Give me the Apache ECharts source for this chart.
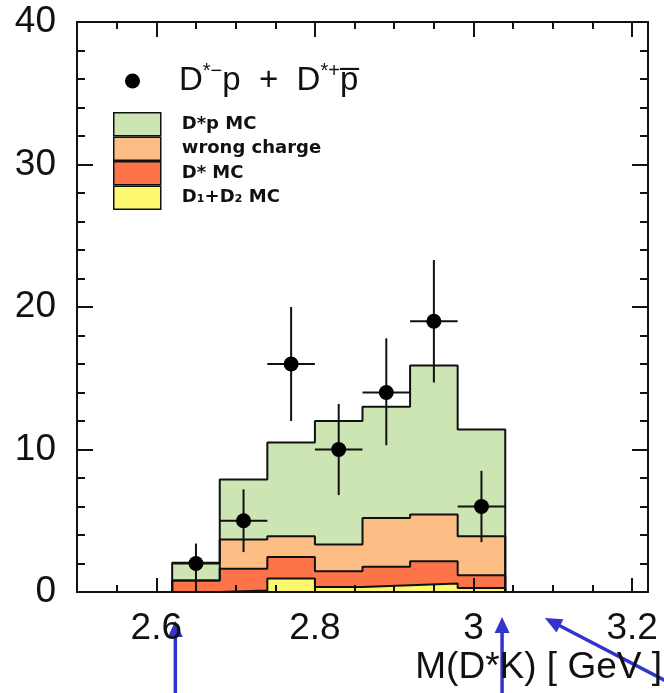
<!DOCTYPE html>
<html><head><meta charset="utf-8">
<script src="https://cdn.jsdelivr.net/npm/echarts@6/dist/echarts.min.js"></script>
<style>html,body{margin:0;padding:0;background:#fff}#c{width:664px;height:693px}</style>
</head><body><div id="c"></div>
<script>
// ---- data ----
const binEdges = [2.62, 2.68, 2.74, 2.80, 2.86, 2.92, 2.98, 3.04, 3.10];
const dataX = [2.65, 2.71, 2.77, 2.83, 2.89, 2.95, 3.01];
const dataY = [2, 5, 16, 10, 14, 19, 6];
const errLow = [2.0, 2.2, 4.0, 3.2, 3.7, 4.3, 2.5];
const errHigh = [1.4, 2.2, 4.0, 3.2, 3.8, 4.3, 2.5];
// stacked histogram tops (each includes the layers below it)
const dpMC = [2.05, 7.9, 10.5, 12.0, 13.0, 15.9, 11.4];
const wrongCharge = [0.8, 3.68, 3.92, 3.33, 5.2, 5.43, 3.92];
const dstarMC = [0.8, 1.64, 2.46, 1.45, 1.78, 2.16, 1.17];
const d1d2MC = [0, 0.1, 0.94, 0.35, 0.47, 0.59, 0.28, 0];
const layerNames = ['D*p MC', 'wrong charge', 'D* MC', 'D\u2081+D\u2082 MC'];
const layerColors = ['#cce5b3', '#fdbe85', '#fd7448', '#fdf86f'];
const yTicks = [0, 10, 20, 30, 40];
const xMajorTicks = [2.6, 2.8, 3.0, 3.2];
const xMinorTicks = [2.55, 2.65, 2.7, 2.75, 2.85, 2.9, 2.95, 3.05, 3.1, 3.15];
const arrowUpAt = [2.624, 3.036];
const arrowDiagAt = 3.09;

const FONT = 'Liberation Sans';
const INK = '#111';

function stepData(vals) {
  const pts = [[binEdges[0], 0]];
  for (let i = 0; i < vals.length; i++) pts.push([binEdges[i], vals[i]]);
  pts.push([binEdges[vals.length], vals[vals.length - 1]]);
  pts.push([binEdges[vals.length], 0]);
  return pts;
}
const layers = [dpMC, wrongCharge, dstarMC, d1d2MC];

const chart = echarts.init(document.getElementById('c'), null, {renderer: 'canvas'});
const tickLine = {color: INK, width: 2};

function xAx(pos, ticks, len, showLine, showLabel) {
  return {
    type: 'value', min: 2.5, max: 3.22, position: pos, z: 5,
    axisLine: {show: showLine, onZero: false, lineStyle: {color: INK, width: 2}},
    axisTick: {show: true, inside: true, length: len, customValues: ticks, lineStyle: tickLine},
    axisLabel: {show: showLabel, customValues: xMajorTicks, margin: 18, fontSize: 37, fontFamily: FONT, color: INK},
    splitLine: {show: false}
  };
}
const xAxes = [
  xAx('bottom', xMajorTicks, 14, true, true),
  xAx('bottom', xMinorTicks, 7, false, false),
  xAx('top', xMajorTicks, 15, true, false),
  xAx('top', xMinorTicks, 7, false, false)
];
xAxes[0].name = 'M(D*K) [ GeV ]';
xAxes[0].nameLocation = 'end';
xAxes[0].nameGap = 14;
xAxes[0].nameMoveOverlap = false;
xAxes[0].nameTextStyle = {align: 'right', verticalAlign: 'top', fontSize: 37, fontFamily: FONT, color: INK, lineHeight: 40, padding: [56, 0, 0, 0]};

function yAx(pos, showLabel) {
  return {
    type: 'value', min: yTicks[0], max: yTicks[yTicks.length - 1], interval: yTicks[1] - yTicks[0], position: pos, z: 5,
    axisLine: {show: true, onZero: false, lineStyle: {color: INK, width: 2}},
    axisTick: {show: true, inside: true, length: 16, lineStyle: tickLine},
    minorTick: {show: true, splitNumber: 5, length: 8, lineStyle: tickLine},
    axisLabel: {show: showLabel, margin: 21, fontSize: 37, fontFamily: FONT, color: INK},
    splitLine: {show: false}
  };
}

const series = layers.map((vals, k) => ({
  name: layerNames[k], type: 'line', step: 'end', xAxisIndex: 0, yAxisIndex: 0,
  data: stepData(vals), showSymbol: false, symbol: 'none', z: 2,
  lineStyle: {color: INK, width: 2}, areaStyle: {color: layerColors[k], opacity: 1},
  itemStyle: {color: layerColors[k]}
}));
series.push({
  name: 'errors', type: 'custom', xAxisIndex: 0, yAxisIndex: 0, z: 3,
  data: dataX.map((x, i) => [x, dataY[i], errLow[i], errHigh[i], binEdges[i], binEdges[i + 1]]),
  encode: {x: 0, y: 1},
  renderItem: (params, api) => {
    const x = api.value(0), y = api.value(1);
    const pL = api.coord([api.value(4), y]), pR = api.coord([api.value(5), y]);
    const pT = api.coord([x, y + api.value(3)]), pB = api.coord([x, y - api.value(2)]);
    return {type: 'group', children: [
      {type: 'line', shape: {x1: pL[0], y1: pL[1], x2: pR[0], y2: pR[1]}, style: {stroke: INK, lineWidth: 2}},
      {type: 'line', shape: {x1: pT[0], y1: pT[1], x2: pB[0], y2: pB[1]}, style: {stroke: INK, lineWidth: 2}}
    ]};
  }
});
series.push({
  name: 'data', type: 'scatter', xAxisIndex: 0, yAxisIndex: 0, z: 4,
  data: dataX.map((x, i) => [x, dataY[i]]), symbol: 'circle', symbolSize: 15,
  itemStyle: {color: '#000', opacity: 1}
});

chart.setOption({
  animation: false,
  backgroundColor: '#fff',
  grid: {left: 77, right: 16, top: 22, bottom: 101, containLabel: false, outerBoundsMode: 'none'},
  xAxis: xAxes,
  yAxis: [yAx('left', true), yAx('right', false)],
  legend: [
    {
      data: [{name: 'data', icon: 'circle', itemStyle: {color: '#000', opacity: 1}}], selectedMode: false, orient: 'vertical',
      left: 125, top: 61, padding: 0, itemWidth: 15, itemHeight: 15,
      formatter: () => '{m|D}{s|*\u2212}{m|p  +  D}{s|*+}{m|p\u0305}',
      textStyle: {padding: [0, 0, 0, 34], rich: {
        m: {fontSize: 33, fontFamily: FONT, color: INK, lineHeight: 40},
        s: {fontSize: 20, fontFamily: FONT, color: INK, lineHeight: 22, verticalAlign: 'top'}
      }}
    },
    {
      data: layerNames.map((n, k) => ({name: n, icon: 'rect', itemStyle: {color: layerColors[k], borderColor: INK, borderWidth: 1.5}})),
      selectedMode: false, orient: 'vertical', left: 113, top: 112, padding: 0,
      itemWidth: 47, itemHeight: 23, itemGap: 0,
      textStyle: {fontSize: 18, fontFamily: 'DejaVu Sans', fontWeight: 'bold', color: INK, padding: [0, 0, 0, 16]}
    }
  ],
  series: series
});

// blue annotation arrows (placed at axis values)
const BLUE = '#3434cc';
const gfx = [];
arrowUpAt.forEach((v, i) => {
  const px = chart.convertToPixel({xAxisIndex: 0}, v);
  const tip = i === 0 ? 621 : 617;
  gfx.push({type: 'line', shape: {x1: px, y1: 700, x2: px, y2: tip + 12}, style: {stroke: BLUE, lineWidth: 3.5}});
  gfx.push({type: 'polygon', shape: {points: [[px, tip], [px - 7.5, tip + 16], [px + 7.5, tip + 16]]}, style: {fill: BLUE}});
});
(function () {
  const tx = chart.convertToPixel({xAxisIndex: 0}, arrowDiagAt), ty = 618;
  const dx = 0.887, dy = 0.462, L = 17, W = 7.5;
  const bx = tx + dx * L, by = ty + dy * L;
  gfx.push({type: 'line', shape: {x1: bx - dx * 4, y1: by - dy * 4, x2: tx + dx * 160, y2: ty + dy * 160}, style: {stroke: BLUE, lineWidth: 3.5}});
  gfx.push({type: 'polygon', shape: {points: [[tx, ty], [bx - dy * W, by + dx * W], [bx + dy * W, by - dx * W]]}, style: {fill: BLUE}});
})();
chart.setOption({graphic: gfx});
</script>
</body></html>
